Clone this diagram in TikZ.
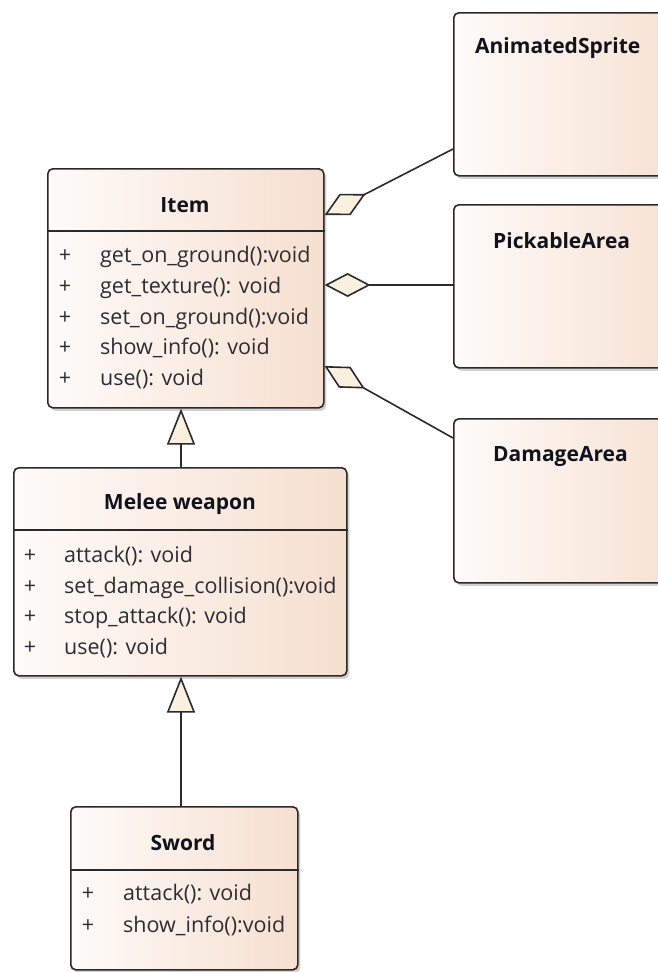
\documentclass[tikz,border=0pt]{standalone}
\usepackage{fontspec}
\setmainfont{Open Sans}
\usetikzlibrary{arrows.meta,shadows,calc}
\definecolor{boxline}{HTML}{2A2A2A}
\definecolor{shadeL}{HTML}{FEFBF9}
\definecolor{shadeR}{HTML}{F6DFCF}
\definecolor{tipfill}{HTML}{FAF0E0}
\definecolor{titletext}{HTML}{10121C}
\definecolor{membertext}{HTML}{2C2C34}
\begin{document}
\begin{tikzpicture}[x=1pt,y=-1pt,
  classbox/.style={draw=boxline, line width=1.6pt, rounded corners=5pt,
    left color=shadeL, right color=shadeR, anchor=north west, inner sep=0pt,
    drop shadow={shadow xshift=2.5pt, shadow yshift=-3pt, opacity=0.18, fill=black}},
  classtitle/.style={anchor=base, inner sep=0pt, text=titletext,
    font=\bfseries\fontsize{21}{24}\selectfont},
  member/.style={anchor=base west, inner sep=0pt, text=membertext,
    font=\fontsize{21.5}{24}\selectfont},
  vis/.style={anchor=base, inner sep=0pt, text=membertext,
    font=\fontsize{21.5}{24}\selectfont},
  sepline/.style={draw=boxline, line width=1.6pt},
  link/.style={draw=boxline, line width=1.6pt},
  agg/.style={link, -{Diamond[length=46pt, width=24pt, fill=tipfill, line width=1.6pt]}},
  gen/.style={link, -{Triangle[length=36pt, width=28pt, fill=tipfill, line width=1.6pt]}}
]
\useasboundingbox (0,0) rectangle (657,972);

% ---- Item ----
\node[classbox, minimum width=276pt, minimum height=239pt] (item) at (47,168) {};
\node[classtitle] (itemT) at (185,212) {Item};
\draw[sepline] ($(item.north west)+(0,63)$) coordinate (itemS1) -- (itemS1 -| item.east);
\foreach \y/\t [count=\i] in {262/get\_on\_ground():void, 293/get\_texture(): void,
    324/set\_on\_ground():void, 354/show\_info(): void, 385/use(): void}{
  \node[vis] (itemV\i) at (65,\y) {+};
  \node[member] (itemM\i) at (100,\y) {\t};
}

% ---- Melee weapon ----
\node[classbox, minimum width=333pt, minimum height=208pt] (melee) at (13,467) {};
\node[classtitle] (meleeT) at (180,509) {Melee weapon};
\draw[sepline] ($(melee.north west)+(0,63)$) coordinate (meleeS1) -- (meleeS1 -| melee.east);
\foreach \y/\t [count=\i] in {562/attack(): void, 593/set\_damage\_collision():void,
    623/stop\_attack(): void, 654/use(): void}{
  \node[vis] (meleeV\i) at (30,\y) {+};
  \node[member] (meleeM\i) at (64,\y) {\t};
}

% ---- Sword ----
\node[classbox, minimum width=227pt, minimum height=163pt] (sword) at (70,806) {};
\node[classtitle] (swordT) at (183,850) {Sword};
\draw[sepline] ($(sword.north west)+(0,64)$) coordinate (swordS1) -- (swordS1 -| sword.east);
\foreach \y/\t [count=\i] in {900/attack(): void, 932/show\_info():void}{
  \node[vis] (swordV\i) at (88,\y) {+};
  \node[member] (swordM\i) at (123,\y) {\t};
}

% ---- Component classes on the right ----
\node[classbox, minimum width=240pt, minimum height=163pt] (anim) at (453,12) {};
\node[classtitle, anchor=base west] (animT) at (475,53) {AnimatedSprite};
\node[classbox, minimum width=240pt, minimum height=163pt] (pick) at (453,204) {};
\node[classtitle, anchor=base west] (pickT) at (493,248) {PickableArea};
\node[classbox, minimum width=240pt, minimum height=164pt] (dmg) at (453,418) {};
\node[classtitle, anchor=base west] (dmgT) at (493,461) {DamageArea};

% ---- Aggregations ----
\coordinate (aggA) at ($(item.north east)+(0,47)$);
\coordinate (aggP) at ($(item.north east)+(0,117)$);
\coordinate (aggD) at ($(item.north east)+(0,198)$);
\coordinate (animL) at ($(anim.north west)+(0,137)$);
\coordinate (dmgL) at ($(dmg.north west)+(0,20)$);
\draw[agg] (animL) -- (aggA);
\draw[agg] (aggP -| pick.west) -- (aggP);
\draw[agg] (dmgL) -- (aggD);

% ---- Generalizations ----
\coordinate (genM) at ($(melee.north west)+(168,0)$);
\coordinate (genS) at ($(sword.north west)+(111,0)$);
\draw[gen] (genM) -- (genM |- item.south);
\draw[gen] (genS) -- (genS |- melee.south);
\end{tikzpicture}
\end{document}
